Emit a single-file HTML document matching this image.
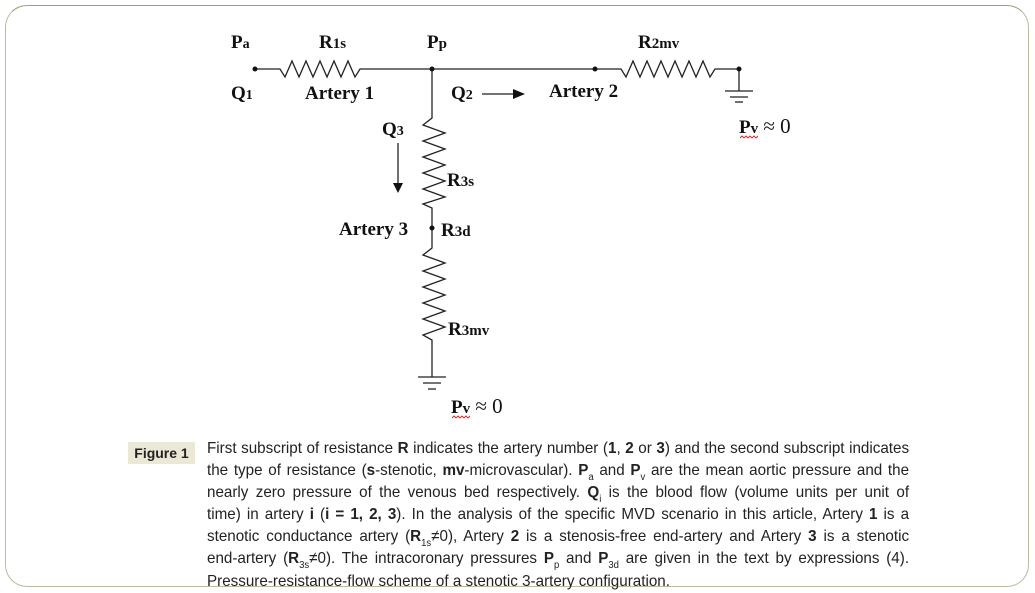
<!DOCTYPE html>
<html><head><meta charset="utf-8"><style>
body{margin:0;width:1035px;height:593px;background:#fff;position:relative;overflow:hidden}
.frame{position:absolute;left:5px;top:5px;width:1022px;height:580px;border:1.5px solid #bdb9a2;border-top-color:#a39d80;border-radius:22px}
.t{font-family:"Liberation Serif",serif;font-weight:bold;fill:#111}
.cap{position:absolute;left:207px;top:438px;width:739px;transform:scaleX(0.95);transform-origin:0 0;font-family:"Liberation Sans",sans-serif;font-size:16px;color:#222}
.cap div{height:22.1px;line-height:22.1px;text-align:justify;text-align-last:justify;white-space:nowrap}
.cap div.last{text-align-last:left}
.fig{position:absolute;left:128px;top:442px;width:67px;height:22px;background:#ebe8d6;font-family:"Liberation Sans",sans-serif;font-weight:bold;font-size:14px;line-height:22px;text-align:center;color:#222}
sub{font-size:10px;line-height:0;vertical-align:-5px}
</style></head><body>
<div class="frame"></div>
<svg width="1035" height="593" style="position:absolute;left:0;top:0">
<g stroke="#222" stroke-width="1.3" fill="none">
<polyline points="255,69 280,69 285,77 292,61 299,77 306,61 313,77 320,61 327,77 334,61 341,77 348,61 355,77 360,69 432,69 595,69 621,69 626,77 633,61 640,77 647,61 654,77 661,61 668,77 675,61 682,77 689,61 696,77 703,61 710,77 715,69 739,69 739,91"/>
<line x1="725" y1="91" x2="753" y2="91"/><line x1="730" y1="97" x2="748" y2="97"/><line x1="735" y1="102" x2="743" y2="102"/>
<polyline points="432,69 432,118 423,125 445,133 423,141 445,149 423,157 445,165 423,173 445,181 423,189 445,197 423,204 432,208 432,248 423,255 445,263 423,271 445,279 423,287 445,295 423,303 445,311 423,319 445,327 423,335 432,340 432,377"/>
<line x1="418" y1="377" x2="446" y2="377"/><line x1="423" y1="383" x2="441" y2="383"/><line x1="428" y1="389" x2="436" y2="389"/>
<line x1="398" y1="143" x2="398" y2="184"/>
<line x1="482" y1="94" x2="515" y2="94"/>
</g>
<polygon points="393,183 403,183 398,193" fill="#111"/>
<polygon points="513,89 525,94 513,99" fill="#111"/>
<g fill="#111"><circle cx="255" cy="69" r="2.5"/><circle cx="432" cy="69" r="2.5"/><circle cx="595" cy="69" r="2.5"/><circle cx="739" cy="69" r="2.5"/><circle cx="432" cy="228" r="2.5"/></g>
<g class="t" font-size="19">
<text x="231" y="48">P<tspan font-size="14">a</tspan></text>
<text x="319" y="48">R<tspan font-size="15">1s</tspan></text>
<text x="427" y="48">P<tspan font-size="15">p</tspan></text>
<text x="638" y="48">R<tspan font-size="15">2mv</tspan></text>
<text x="231" y="99">Q<tspan font-size="14">1</tspan></text>
<text x="305" y="99">Artery 1</text>
<text x="451" y="99">Q<tspan font-size="14">2</tspan></text>
<text x="549" y="97">Artery 2</text>
<text x="382" y="135">Q<tspan font-size="14">3</tspan></text>
<text x="447" y="186">R<tspan font-size="15">3s</tspan></text>
<text x="339" y="235">Artery 3</text>
<text x="441" y="236">R<tspan font-size="15">3d</tspan></text>
<text x="448" y="335">R<tspan font-size="15">3mv</tspan></text>
<text x="739" y="133">P<tspan font-size="15">v</tspan><tspan font-weight="normal" font-size="21"> ≈ 0</tspan></text>
<text x="451" y="413">P<tspan font-size="15">v</tspan><tspan font-weight="normal" font-size="21"> ≈ 0</tspan></text>
</g>
<path d="M740,138 l2,-2 2,2 2,-2 2,2 2,-2 2,2 2,-2 2,2 2,-2" stroke="#d22" fill="none" stroke-width="0.9"/>
<path d="M452,418 l2,-2 2,2 2,-2 2,2 2,-2 2,2 2,-2 2,2 2,-2" stroke="#d22" fill="none" stroke-width="0.9"/>
</svg>
<div class="fig">Figure 1</div>
<div class="cap">
<div>First subscript of resistance <b>R</b> indicates the artery number (<b>1</b>, <b>2</b> or <b>3</b>) and the second subscript indicates</div>
<div>the type of resistance (<b>s</b>-stenotic, <b>mv</b>-microvascular). <b>P</b><sub>a</sub> and <b>P</b><sub>v</sub> are the mean aortic pressure and the</div>
<div>nearly zero pressure of the venous bed respectively. <b>Q</b><sub>i</sub> is the blood flow (volume units per unit of</div>
<div>time) in artery <b>i</b> (<b>i = 1, 2, 3</b>). In the analysis of the specific MVD scenario in this article, Artery <b>1</b> is a</div>
<div>stenotic conductance artery (<b>R</b><sub>1s</sub>≠0), Artery <b>2</b> is a stenosis-free end-artery and Artery <b>3</b> is a stenotic</div>
<div>end-artery (<b>R</b><sub>3s</sub>≠0). The intracoronary pressures <b>P</b><sub>p</sub> and <b>P</b><sub>3d</sub> are given in the text by expressions (4).</div>
<div class="last">Pressure-resistance-flow scheme of a stenotic 3-artery configuration.</div>
</div>
</body></html>
